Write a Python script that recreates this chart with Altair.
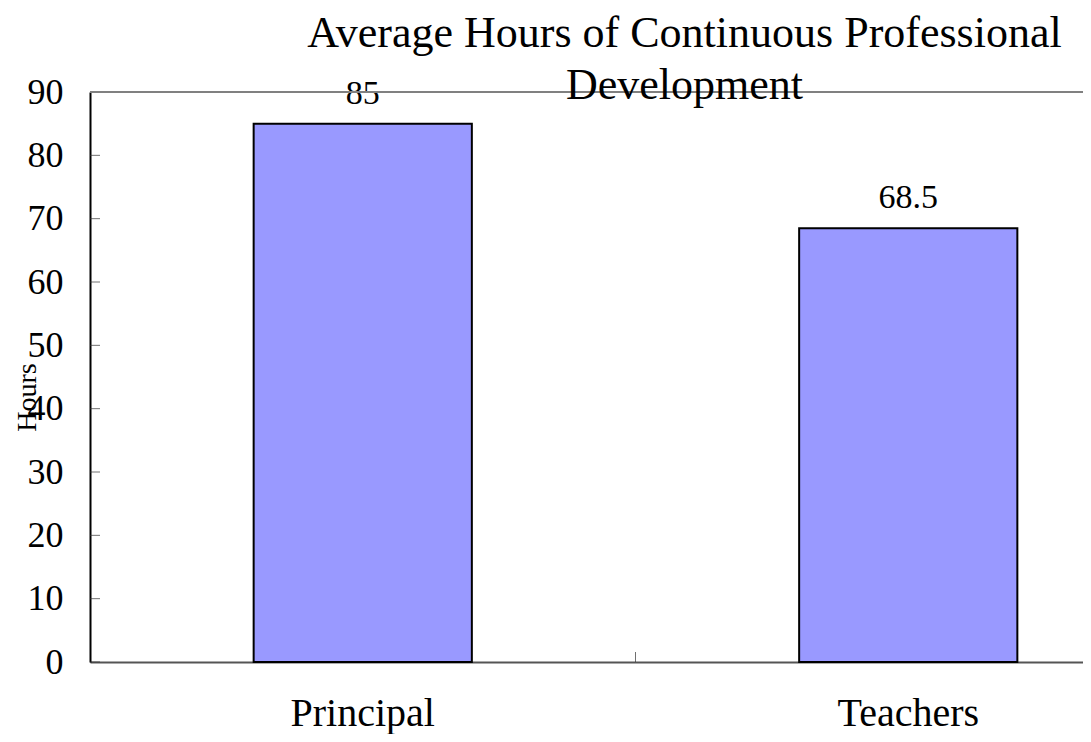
import altair as alt
import pandas as pd

# ---- data ----
categories = ["Principal", "Teachers"]
hours = [85, 68.5]
value_labels = ["85", "68.5"]
y_ticks = [0, 10, 20, 30, 40, 50, 60, 70, 80, 90]
title_lines = ["Average Hours of Continuous Professional", "Development"]
y_title = "Hours"

df = pd.DataFrame({"group": categories, "hours": hours, "label": value_labels})
tick_df = pd.DataFrame({"t": y_ticks})

W, H = 993, 570
FONT = "Liberation Serif"
RANGE_W = 1091
P_IN, P_OUT = 0.6, 0.3
STEP = RANGE_W / (len(categories) - P_IN + 2 * P_OUT)

x_scale = alt.Scale(domain=categories, range=[0, RANGE_W], paddingInner=P_IN, paddingOuter=P_OUT)
y_scale = alt.Scale(domain=[0, 90], nice=False, zero=True)

base = alt.Chart(df)

bars = base.mark_bar(color="#9999FF", stroke="#000000", strokeWidth=2).encode(
    x=alt.X("group:N", scale=x_scale, sort=categories,
            axis=alt.Axis(orient="bottom", title=None, labelAngle=0, ticks=False, tickSize=0,
                          labelPadding=31, labelFont=FONT, labelFontSize=40, labelColor="#000000",
                          domainColor="#555555", domainWidth=2, grid=False)),
    y=alt.Y("hours:Q", scale=y_scale,
            axis=alt.Axis(orient="left", title=y_title, values=y_ticks, ticks=False, tickSize=0,
                          labelPadding=27, labelFont=FONT, labelFontSize=36, labelColor="#000000",
                          domainColor="#000000", domainWidth=2, grid=False,
                          titleFont=FONT, titleFontSize=28, titleFontWeight="normal",
                          titleColor="#000000", titleX=-63, titleY=305, titleAngle=270,
                          titleAlign="center", titleBaseline="middle")),
)

labels = base.mark_text(font=FONT, fontSize=34, baseline="alphabetic", dy=-20,
                        color="#000000").encode(
    x=alt.X("group:N", scale=x_scale, sort=categories),
    y=alt.Y("hours:Q", scale=y_scale),
    text="label:N",
)

# inward ticks on the value axis
y_inner_ticks = alt.Chart(tick_df).mark_tick(
    orient="horizontal", size=10, thickness=1, color="#333333"
).encode(
    y=alt.Y("t:Q", scale=y_scale),
    x=alt.value(5),
)

# inward tick on the category axis, halfway between the two bands
x_inner_tick = base.transform_filter(
    alt.datum.group == categories[0]
).mark_tick(orient="vertical", size=10, thickness=1, color="#333333",
            xOffset=STEP * P_IN / 2).encode(
    x=alt.X("group:N", scale=x_scale, sort=categories, bandPosition=1),
    y=alt.value(H - 5),
)

top_line = base.mark_rule(color="#808080", strokeWidth=2).encode(
    y=alt.datum(90, scale=y_scale)
)

chart = (
    alt.layer(bars, labels, y_inner_ticks, x_inner_tick, top_line)
    .properties(
        width=W,
        height=H,
        autosize="none",
        padding={"left": 82, "top": 84, "right": 0, "bottom": 72},
        title=alt.TitleParams(text=title_lines, font=FONT, fontSize=44, fontWeight="normal",
                              color="#000000", anchor="middle", dx=98, lineHeight=52,
                              offset=-34),
    )
    .configure_view(stroke=None)
    .configure(background="#ffffff")
)

chart.save("out.html", embed_options={"renderer": "svg", "actions": False})
